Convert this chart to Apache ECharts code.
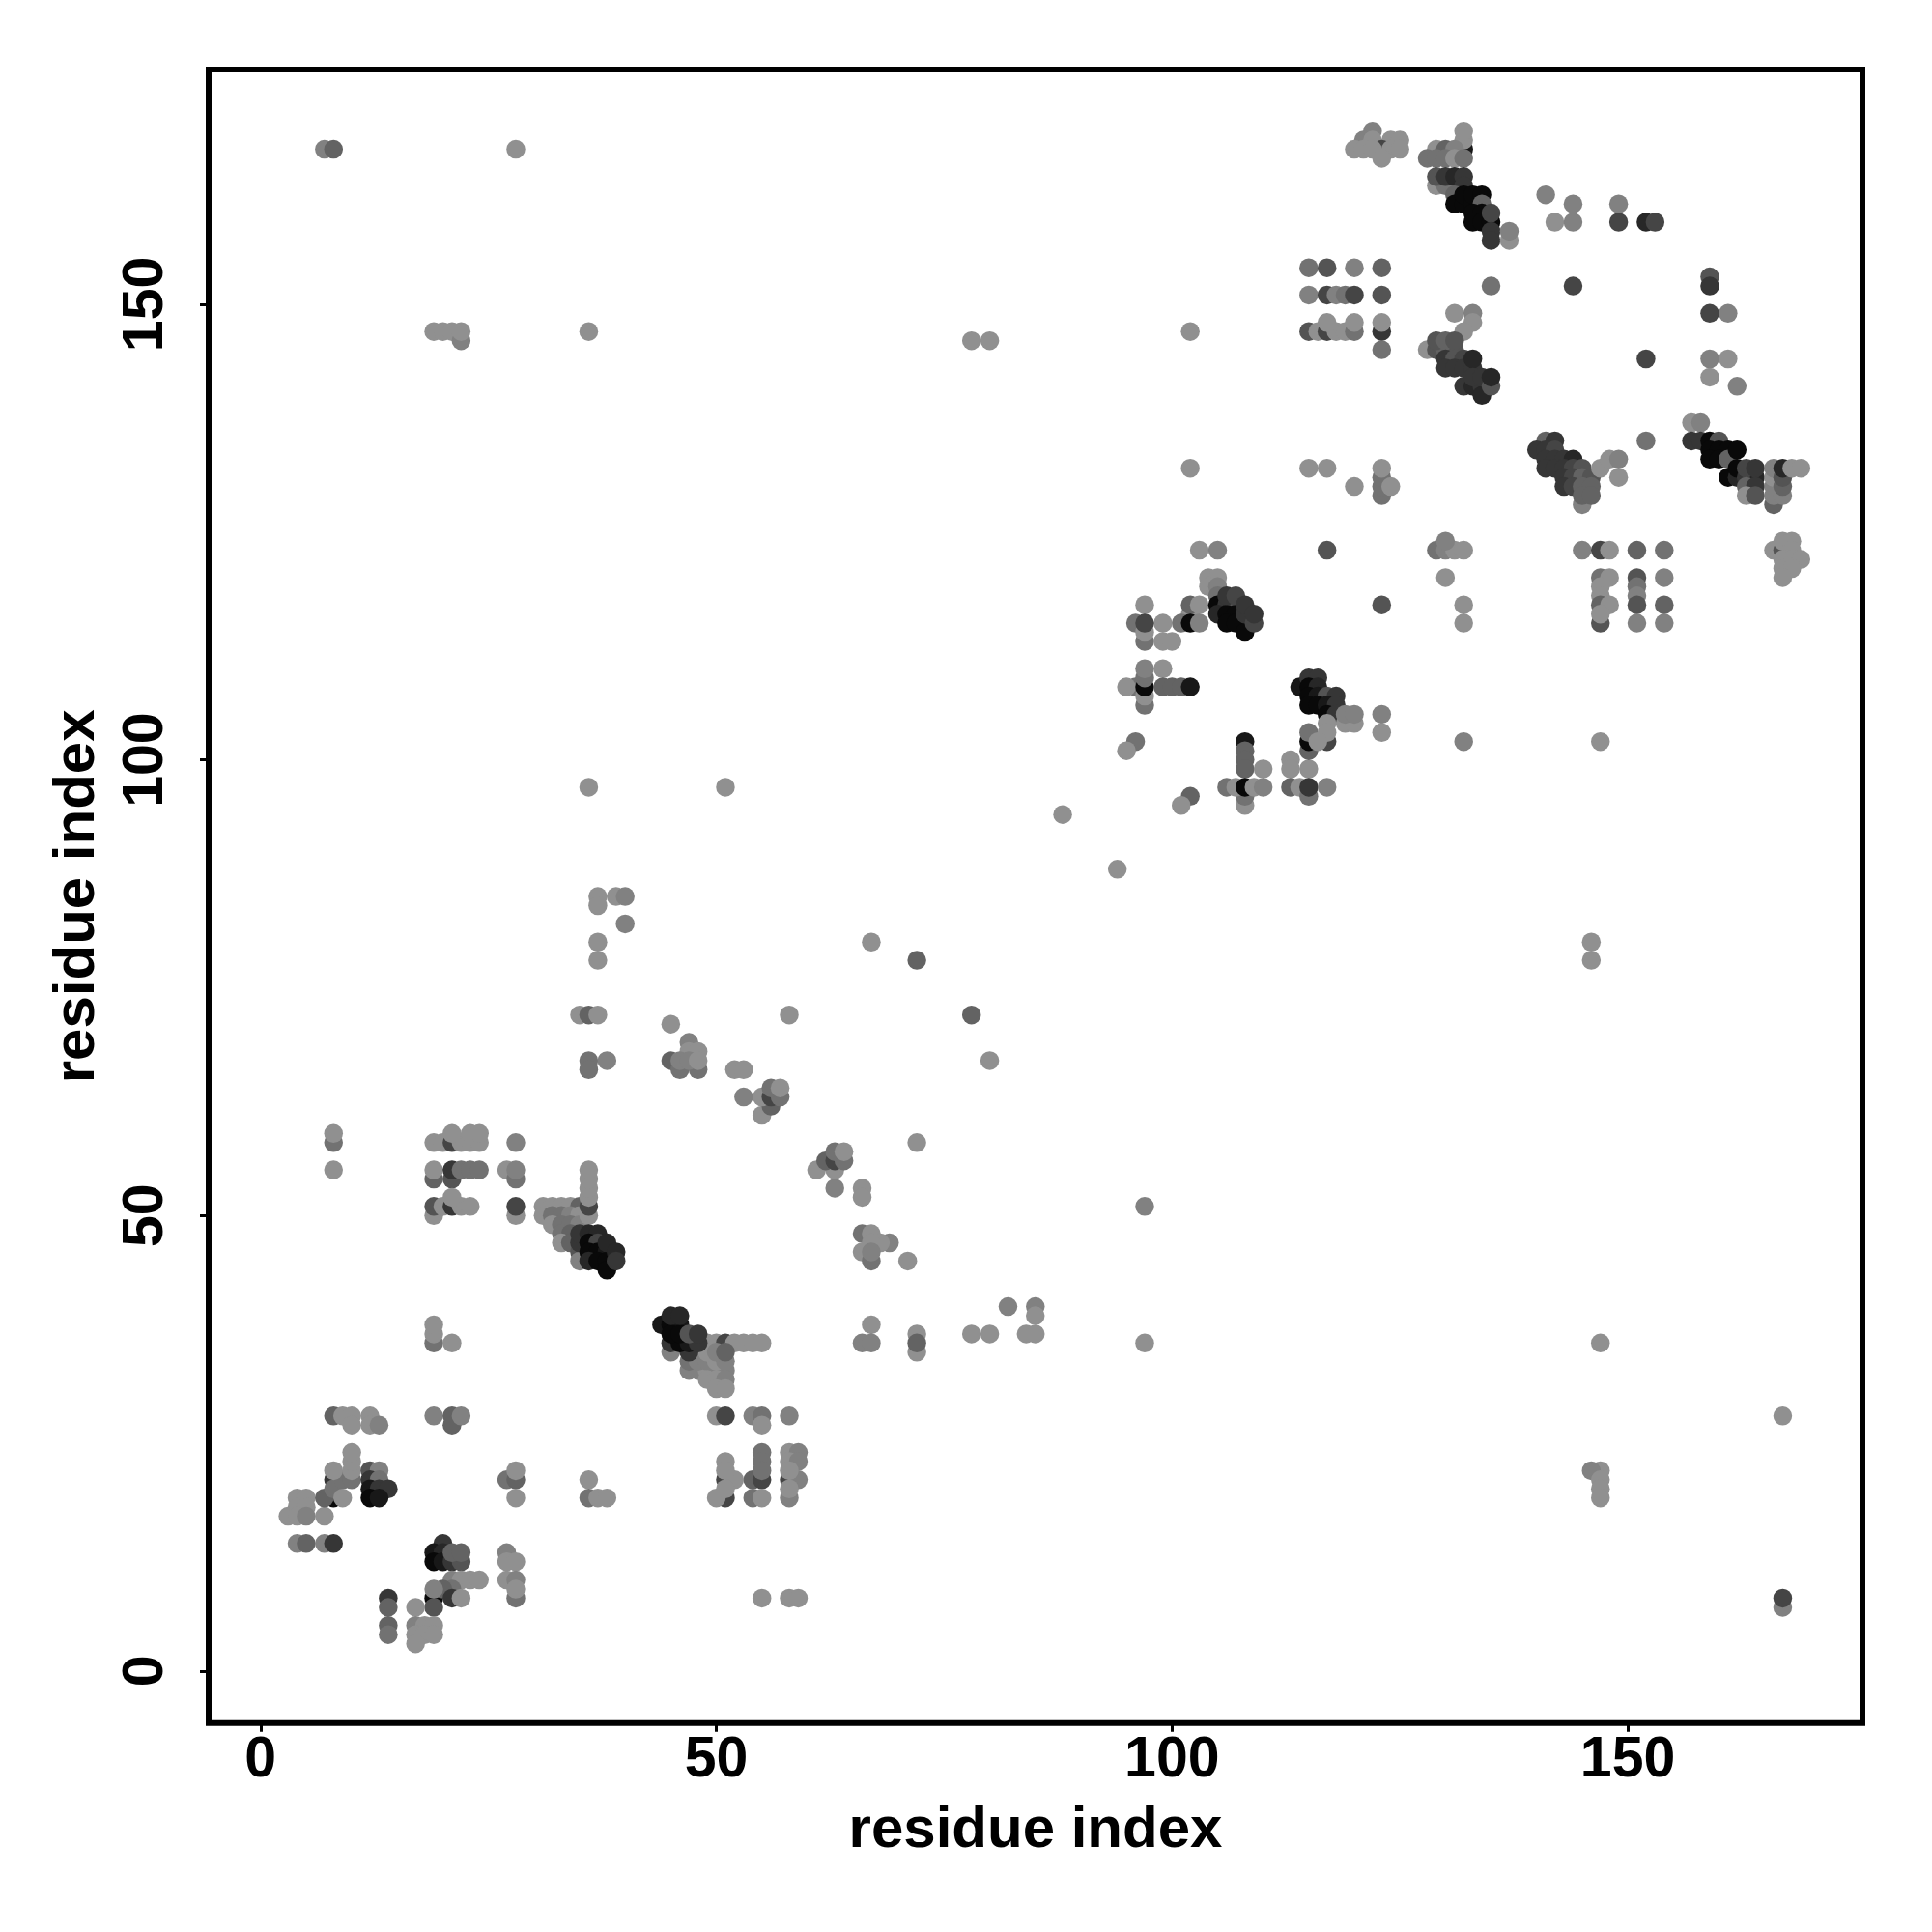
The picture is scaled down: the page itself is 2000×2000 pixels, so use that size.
<!DOCTYPE html>
<html><head><meta charset="utf-8">
<style>html,body{margin:0;padding:0;background:#fff}#c{width:2000px;height:2000px}</style>
<script src="https://cdn.jsdelivr.net/npm/echarts@6/dist/echarts.min.js"></script>
</head><body><div id="c"></div>
<script>
// each contact: [residue x, residue y, darkness level 0 (light) .. 9 (black)]
const axisTicks=[0,50,100,150];
const axisTitle="residue index";
const lowLeftA=[[4,19,0],[5,19,0],[4,18,0],[5,18,0],[3,17,0],[4,17,0],[5,17,1],[7,17,0],[4,14,1],[5,14,3],[7,14,1],[8,14,6],
[8,28,3],[9,28,0],[10,28,0],[12,28,0],[10,27,0],[12,27,0],[13,27,1],[19,28,1],[21,28,3],[21,27,3],[22,28,1],
[8,21,6],[8,19,9],[7,19,3],[8,20,2],[9,21,2],[10,21,2],[8,22,0],[10,22,0],[10,23,0],[10,24,0],[9,19,0],
[12,22,4],[13,22,1],[12,21,6],[13,21,2],[12,20,8],[13,20,6],[14,20,6],[12,19,9],[13,19,8]];
const lowLeftB=[[20,14,6],[19,13,8],[20,13,7],[19,12,9],[20,12,8],[21,12,6],[22,12,4],[21,13,3],[22,13,3],
[21,10,1],[22,10,0],[23,10,0],[24,10,0],[21,9,2],[19,8,9],[19,7,4],[20,9,3],[21,8,6],[19,9,1],[22,8,0],
[14,8,6],[14,7,3],[14,5,3],[14,4,2],[17,7,0],[17,5,1],[18,5,0],[19,5,0],[17,4,0],[18,4,0],[19,4,0],[17,3,0],
[27,21,2],[28,21,3],[28,22,0],[28,19,0],[28,8,2],[27,13,1],[27,12,0],[28,12,0],[27,10,0],[28,10,1],[28,9,0]];
const lowMid=[[36,21,0],[36,19,2],[37,19,0],[38,19,0],
[50,28,0],[51,28,5],[54,28,1],[55,28,2],[55,27,0],[58,28,1],
[51,21,5],[54,21,3],[55,21,5],[58,21,5],[59,21,1],[52,21,0],[51,23,0],[51,22,0],[55,24,2],[55,23,2],[55,22,2],
[58,24,0],[59,24,1],[58,23,0],[59,23,1],[58,22,0],[51,19,5],[50,19,0],[51,20,0],[54,19,2],[55,19,0],[58,19,1],[58,20,0],
[55,8,0],[58,8,0],[59,8,0]];
const diagonal45=[[49,36,0],[50,36,0],[51,36,5],[52,36,0],[53,36,0],[54,36,0],[55,36,0],[45,35,1],[47,33,1],[48,33,1],[49,33,0],[50,33,1],[51,33,1],
[47,34,2],[48,34,1],[49,34,1],[50,34,0],[51,34,1],[49,32,0],[50,32,0],[51,32,1],[50,31,0],[51,31,0],[49,35,0],[50,35,1],[51,35,3],[47,35,6],
[45,36,6],[46,36,9],[47,36,8],[48,36,6],[44,38,8],[45,38,9],[46,38,8],[45,37,9],[46,37,9],[47,37,4],[48,37,6],[45,39,7],[46,39,7]];
const diagonal36=[[31,51,0],[32,51,0],[33,51,0],[34,51,0],[35,51,3],[31,50,0],[32,50,2],[33,50,2],[34,50,1],[35,50,0],[32,49,0],[33,49,2],[34,49,2],[35,49,1],
[33,48,2],[34,48,3],[33,47,0],[34,47,3],[36,50,0],[36,51,5],[36,52,0],[36,53,0],[36,54,0],[36,55,0],
[35,46,4],[35,45,1],[35,47,6],[35,48,6],[36,48,7],[37,48,7],[36,47,9],[37,47,5],[36,46,9],[37,46,9],[38,46,8],[36,45,7],[37,45,9],[38,45,9],[38,44,9],[38,47,7],[39,46,7],[39,45,6]];
const midLeft=[[8,58,2],[8,59,0],[8,55,0],[19,58,0],[20,58,0],[21,58,5],[22,58,0],[23,58,0],[24,58,0],[21,59,0],[23,59,0],[24,59,0],[28,58,1],
[19,54,3],[19,55,0],[21,54,4],[21,55,6],[22,55,2],[23,55,2],[24,55,2],[27,55,0],[28,54,2],[28,55,1],
[19,50,0],[19,51,4],[20,51,0],[21,51,6],[22,51,0],[23,51,0],[21,52,0],[28,50,0],[28,51,5],
[19,36,2],[19,37,0],[19,38,0],[21,36,0]];
const midCentre=[[37,85,0],[37,84,0],[39,85,0],[40,85,1],[40,82,1],[37,80,0],[37,78,0],[35,72,0],[36,72,3],[37,72,0],[45,71,0],
[36,67,2],[36,66,2],[38,67,1],[47,69,1],[47,68,0],[48,68,0],[45,67,3],[46,66,2],[48,66,2],[46,67,1],[47,67,1],[48,67,0],
[52,66,0],[53,66,0],[53,63,1],[55,61,0],[56,62,3],[55,63,0],[56,63,5],[57,63,2],[56,64,2],[57,64,0],[58,72,0],[67,80,0],[72,78,3],
[61,55,0],[63,55,0],[62,56,3],[63,56,5],[64,56,2],[63,57,2],[64,57,0],[63,53,1],[72,58,0],[66,53,0],[66,52,0],
[66,48,2],[67,48,0],[69,47,1],[68,47,0],[67,47,0],[66,46,0],[67,45,2],[67,46,1],[71,45,0],
[67,38,0],[66,36,1],[67,36,1],[72,37,0],[72,35,0],[72,36,3],[78,72,3],[80,67,0],[97,51,1],[97,36,0],
[82,40,1],[85,40,1],[85,39,0],[78,37,0],[80,37,0],[84,37,0],[85,37,0],[36,97,0],[51,97,0],[88,94,0],[94,88,0],
[146,80,0],[146,78,0],[147,36,0],[147,22,0],[146,22,1],[147,21,0],[147,20,0],[147,19,0],[167,28,0],[167,7,1],[167,8,5]];
const farTop=[[7,167,1],[8,167,3],[28,167,0],[19,147,0],[20,147,0],[21,147,0],[22,146,1],[22,147,0],[36,147,0],[78,146,0],[80,146,0],[102,147,0],[102,132,0],
[115,132,0],[117,132,0],[120,130,0],[123,129,2],[123,130,2],[123,131,2],[123,132,0],[124,130,0],[117,123,4],[123,117,4],[132,117,0],[132,115,0],[132,102,1],[147,102,0]];
const clusterA=[[103,123,0],[105,123,1],[104,120,0],[105,120,0],[104,119,0],[105,119,1],[105,118,2],[97,117,0],[102,116,0],[102,117,3],[103,117,0],
[101,115,2],[102,115,9],[103,115,1],[99,115,0],[96,115,2],[97,113,2],[97,114,0],[97,115,5],[99,113,0],[100,113,0],
[105,117,9],[106,117,6],[107,117,4],[105,116,7],[106,116,9],[107,116,9],[106,115,9],[107,115,9],[108,115,9],[108,114,9],[108,116,6],[109,115,5],[106,118,6],[107,118,5],[108,117,6],[109,116,6],
[96,108,2],[95,108,0],[97,106,2],[97,107,0],[97,108,9],[97,109,2],[97,110,1],[99,110,0],[99,108,3],[100,108,3],[101,108,3],[102,108,8],
[96,102,2],[95,101,0],[102,96,3],[101,95,0]];
const clusterB=[[108,102,8],[108,101,3],[108,100,3],[108,99,3],[110,99,0],[108,95,0],[108,96,2],[106,97,2],[107,97,0],[108,97,9],[109,97,0],[110,97,1],
[113,100,0],[113,99,0],[115,99,0],[113,97,3],[114,97,0],[115,96,2],[115,97,6],[117,97,1],[123,105,1],[123,103,0],
[114,108,8],[115,109,6],[116,109,6],[115,108,9],[116,108,7],[115,107,9],[116,107,8],[117,107,4],[118,107,6],[115,106,9],[116,106,9],[117,106,8],[118,106,6],[117,105,9],[118,105,6],
[117,104,0],[119,104,0],[120,104,0],[119,105,1],[120,105,1],
[115,101,3],[115,102,9],[117,102,5],[115,103,2],[117,103,0],[116,102,0]];
const topA=[[122,169,1],[121,168,1],[122,168,0],[124,168,0],[125,168,0],[123,167,5],[120,167,0],[121,167,0],[122,167,0],[124,167,0],[125,167,0],[123,166,0],
[132,167,8],[132,168,0],[132,169,0],[129,167,0],[130,167,3],[131,167,1],[128,166,2],[129,166,2],[130,166,2],[131,166,0],[132,166,2],
[129,163,0],[130,163,2],[131,163,2],[129,164,4],[130,164,6],[131,164,7],[132,164,6],[132,163,6],
[131,162,3],[131,161,9],[132,161,9],[132,162,9],[133,161,9],[133,162,9],[134,162,9],[134,161,3],[133,160,9],[134,160,9],[133,159,9],[134,159,9],[135,159,9],[135,160,5],
[135,158,6],[135,157,6],[137,157,0],[137,158,1],[141,162,1],[144,161,1],[142,159,0],[144,159,1],[149,161,1],[149,159,5],[152,159,7],[153,159,5]];
const topB=[[115,154,2],[117,154,4],[120,154,1],[123,154,3],[115,151,1],[117,151,5],[118,151,1],[119,151,2],[120,151,5],[123,151,4],
[115,147,4],[116,147,0],[117,147,5],[118,147,0],[119,147,0],[120,147,2],[123,147,6],[117,148,0],[120,148,0],[123,148,0],[123,145,2],[135,152,2],[144,152,5],
[131,149,0],[133,149,1],[133,148,0],[132,147,0],[128,145,0],[129,145,4],[130,145,3],[131,145,4],[129,146,4],[130,146,3],[131,146,4],
[130,144,6],[131,144,4],[132,144,5],[130,143,6],[131,143,6],[132,143,6],[133,143,6],[133,144,7],
[132,141,6],[133,141,7],[134,141,6],[134,140,7],[133,142,6],[134,142,6],[135,141,4],[135,142,7],
[159,153,4],[159,152,6],[159,149,5],[161,149,1],[152,144,5],[159,144,1],[161,144,0],[159,142,0],[162,141,1]];
const rightA=[[141,135,3],[142,135,6],[140,134,6],[141,134,6],[142,134,5],[141,133,6],[142,133,6],[143,133,6],[144,133,7],[141,132,6],[142,132,6],[143,132,6],[144,132,5],[145,132,4],
[143,131,6],[144,131,5],[145,131,3],[146,131,4],[143,130,6],[144,130,5],[145,130,3],[146,130,3],[145,128,1],[145,129,3],[146,129,3],
[147,132,0],[148,133,0],[149,133,1],[149,131,0],[152,135,2],[157,137,0],[158,137,1]];
const rightB=[[157,135,6],[158,135,6],[159,135,9],[160,135,4],[159,134,9],[160,134,9],[161,134,9],[159,133,9],[160,133,9],[161,133,3],[162,134,9],
[161,131,9],[162,131,7],[162,132,9],[163,131,6],[164,131,7],[163,132,5],[164,132,6],[163,130,3],[164,130,6],[163,129,0],[164,129,4],
[166,128,3],[166,129,1],[166,130,1],[166,131,0],[166,132,1],[167,129,1],[167,130,3],[167,131,4],[167,132,7],[168,132,0],[169,132,0]];
const lowerRight=[[129,123,2],[130,123,1],[131,123,0],[132,123,0],[130,124,1],[130,120,0],
[145,123,1],[147,123,5],[148,123,0],[151,123,3],[154,123,2],[147,120,2],[148,120,0],[151,120,4],[154,120,1],
[147,119,0],[147,118,0],[147,117,3],[148,117,0],[147,115,4],[147,116,0],[151,119,2],[151,118,1],[151,117,4],[151,115,1],[154,117,3],[154,115,1],
[166,123,0],[167,123,4],[167,124,0],[168,124,0],[168,123,0],[167,122,0],[168,122,0],[169,122,0],[167,121,0],[168,121,0],[167,120,0]];

const contacts=[].concat(lowLeftA,lowLeftB,lowMid,diagonal36,diagonal45,midLeft,midCentre,farTop,clusterA,clusterB,topA,topB,rightA,rightB,lowerRight);
const grayOf=l=>{const g=Math.max(0,0x90-15*l);return `rgb(${g},${g},${g})`;};
const font='"Liberation Sans",Arial,sans-serif';
const axisCommon={type:'value',min:-5.7,max:175.75,splitLine:{show:false},axisLine:{show:false,onZero:false},
 axisTick:{show:true,length:9,inside:false,customValues:axisTicks,lineStyle:{color:'#000',width:3}},
 name:axisTitle,nameLocation:'middle',nameTextStyle:{fontFamily:font,fontWeight:'bold',fontSize:60,color:'#000'}};
const chart=echarts.init(document.getElementById('c'),null,{renderer:'canvas',width:2000,height:2000});
chart.setOption({animation:false,backgroundColor:'#fff',
 grid:{show:true,left:216,top:72,width:1712,height:1711.7,borderColor:'#000',borderWidth:6,backgroundColor:'#fff'},
 xAxis:Object.assign({},axisCommon,{nameGap:82,axisLabel:{customValues:axisTicks,margin:10,fontFamily:font,fontWeight:'bold',fontSize:59,color:'#000'}}),
 yAxis:Object.assign({},axisCommon,{nameGap:106,axisLabel:{customValues:axisTicks,rotate:90,margin:35,fontFamily:font,fontWeight:'bold',fontSize:59,color:'#000'}}),
 series:[{type:'scatter',symbol:'circle',symbolSize:19.5,large:false,progressive:0,
   data:contacts.map(c=>({value:[c[0],c[1]],itemStyle:{color:grayOf(c[2]),opacity:1}}))}]
});
</script></body></html>
